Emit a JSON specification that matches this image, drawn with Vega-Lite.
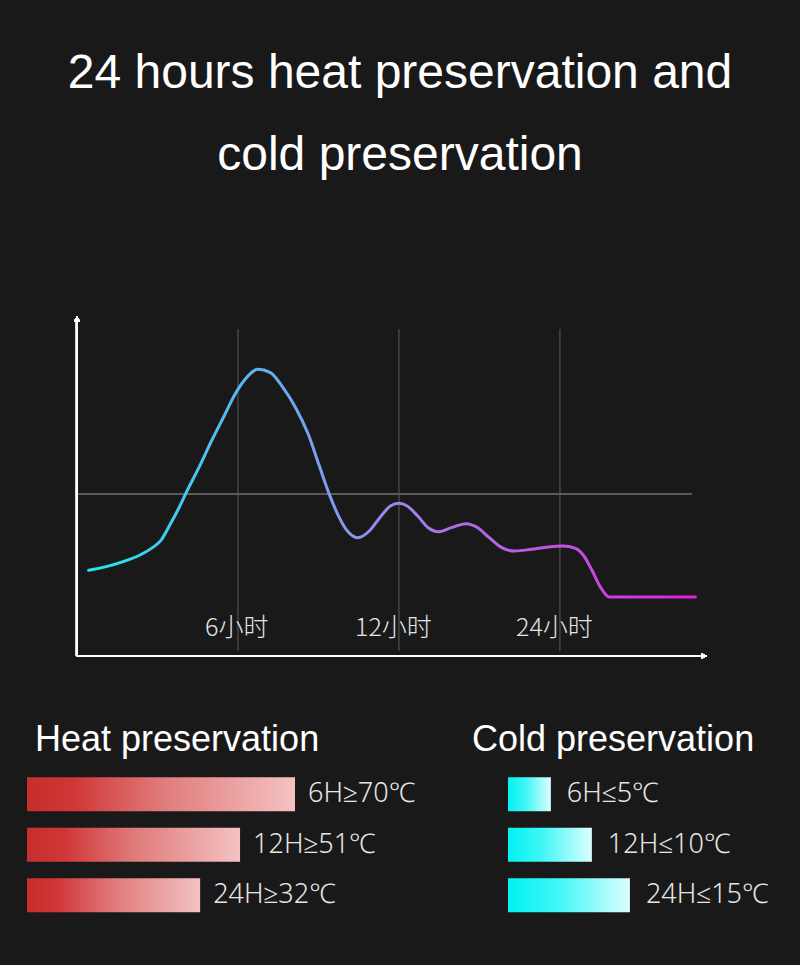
{
  "$schema": "https://vega.github.io/schema/vega-lite/v6.json",
  "background": "#191919",
  "padding": {"top": 50, "left": 0, "right": 0, "bottom": 46},
  "title": {
    "text": ["24 hours heat preservation and", "cold preservation"],
    "fontSize": 48,
    "lineHeight": 82,
    "font": "Liberation Sans",
    "fontWeight": "normal",
    "color": "#ffffff",
    "anchor": "middle",
    "offset": 134
  },
  "spacing": 61,
  "config": {"view": {"stroke": null}, "concat": {"spacing": 0}},
  "vconcat": [
    {
      "width": 800,
      "height": 347,
      "data": {"values": [
        {"pos": 0.0722, "temp": 25.05},
        {"pos": 0.182, "temp": 26.12},
        {"pos": 0.2865, "temp": 27.58},
        {"pos": 0.3911, "temp": 29.53},
        {"pos": 0.4695, "temp": 31.68},
        {"pos": 0.5218, "temp": 33.82},
        {"pos": 0.5793, "temp": 38.5},
        {"pos": 0.6394, "temp": 43.86},
        {"pos": 0.6786, "temp": 47.76},
        {"pos": 0.7571, "temp": 55.07},
        {"pos": 0.8355, "temp": 62.87},
        {"pos": 0.9139, "temp": 70.18},
        {"pos": 0.9819, "temp": 76.51},
        {"pos": 1.0447, "temp": 80.9},
        {"pos": 1.1231, "temp": 83.82},
        {"pos": 1.2015, "temp": 82.85},
        {"pos": 1.2799, "temp": 78.46},
        {"pos": 1.3583, "temp": 72.61},
        {"pos": 1.4368, "temp": 64.82},
        {"pos": 1.5021, "temp": 56.04},
        {"pos": 1.5675, "temp": 47.27},
        {"pos": 1.6198, "temp": 41.42},
        {"pos": 1.672, "temp": 37.04},
        {"pos": 1.7452, "temp": 34.6},
        {"pos": 1.8158, "temp": 36.55},
        {"pos": 1.8812, "temp": 40.45},
        {"pos": 1.9466, "temp": 43.86},
        {"pos": 1.9988, "temp": 44.64},
        {"pos": 2.0511, "temp": 43.86},
        {"pos": 2.1164, "temp": 40.94},
        {"pos": 2.1818, "temp": 37.52},
        {"pos": 2.2472, "temp": 36.35},
        {"pos": 2.3256, "temp": 37.52},
        {"pos": 2.417, "temp": 38.69},
        {"pos": 2.4824, "temp": 37.72},
        {"pos": 2.5608, "temp": 34.6},
        {"pos": 2.6392, "temp": 31.68},
        {"pos": 2.7177, "temp": 30.7},
        {"pos": 2.8223, "temp": 31.19},
        {"pos": 2.9268, "temp": 31.87},
        {"pos": 3.0183, "temp": 32.16},
        {"pos": 3.0967, "temp": 31.48},
        {"pos": 3.149, "temp": 29.24},
        {"pos": 3.2012, "temp": 24.85},
        {"pos": 3.2536, "temp": 19.98},
        {"pos": 3.3058, "temp": 17.25},
        {"pos": 3.5542, "temp": 17.25},
        {"pos": 3.8417, "temp": 17.25}
      ]},
      "layer": [
        {
          "data": {"values": [{"pos": 1}, {"pos": 2}, {"pos": 3}]},
          "mark": {"type": "rule", "color": "#5c5c5c", "strokeWidth": 1},
          "encoding": {
            "x": {"field": "pos", "type": "quantitative", "scale": {"domain": [-0.478, 4.491], "nice": false, "zero": false}, "axis": null},
            "y": {"datum": 95.6, "type": "quantitative", "scale": {"domain": [-1.462, 100], "nice": false, "zero": false}, "axis": null},
            "y2": {"datum": 1.5}
          }
        },
        {
          "mark": {"type": "rule", "color": "#5c5c5c", "strokeWidth": 1},
          "encoding": {
            "x": {"datum": 0.006, "type": "quantitative"},
            "x2": {"datum": 3.82},
            "y": {"datum": 47.4, "type": "quantitative"}
          }
        },
        {
          "mark": {"type": "rule", "color": "#ffffff", "strokeWidth": 2},
          "encoding": {
            "x": {"datum": 0, "type": "quantitative"},
            "y": {"datum": 0, "type": "quantitative"},
            "y2": {"datum": 98.5}
          }
        },
        {
          "mark": {"type": "rule", "color": "#ffffff", "strokeWidth": 2},
          "encoding": {
            "x": {"datum": 0, "type": "quantitative"},
            "x2": {"datum": 3.88},
            "y": {"datum": 0, "type": "quantitative"}
          }
        },
        {
          "mark": {"type": "point", "shape": "triangle-up", "filled": true, "color": "#ffffff", "size": 35, "opacity": 1},
          "encoding": {
            "x": {"datum": 0, "type": "quantitative"},
            "y": {"datum": 98.6, "type": "quantitative"}
          }
        },
        {
          "mark": {"type": "point", "shape": "triangle-right", "filled": true, "color": "#ffffff", "size": 35, "opacity": 1},
          "encoding": {
            "x": {"datum": 3.895, "type": "quantitative"},
            "y": {"datum": 0, "type": "quantitative"}
          }
        },
        {
          "data": {"values": [
            {"pos": 0.9925, "label": "6小时"},
            {"pos": 1.966, "label": "12小时"},
            {"pos": 2.966, "label": "24小时"}
          ]},
          "mark": {"type": "text", "font": "Noto Sans CJK SC", "fontSize": 25, "fontWeight": 300, "color": "#e6e6e6", "align": "center", "baseline": "middle"},
          "encoding": {
            "x": {"field": "pos", "type": "quantitative"},
            "y": {"datum": 8.2, "type": "quantitative"},
            "text": {"field": "label"}
          }
        },
        {
          "mark": {
            "type": "line",
            "interpolate": "monotone",
            "strokeWidth": 3,
            "strokeCap": "round",
            "strokeJoin": "round",
            "color": {
              "gradient": "linear",
              "x1": 0, "x2": 1, "y1": 0, "y2": 0,
              "stops": [
                {"offset": 0, "color": "#22e6ea"},
                {"offset": 0.28, "color": "#5fb2f2"},
                {"offset": 0.51, "color": "#a084ee"},
                {"offset": 0.63, "color": "#b268e4"},
                {"offset": 0.78, "color": "#c452e2"},
                {"offset": 1, "color": "#e21ee0"}
              ]
            }
          },
          "encoding": {
            "x": {"field": "pos", "type": "quantitative"},
            "y": {"field": "temp", "type": "quantitative"}
          }
        }
      ]
    },
    {
      "spacing": 0,
      "hconcat": [
        {
          "width": 440,
          "height": 151.5,
          "title": {"text": "Heat preservation", "anchor": "start", "dx": 35, "fontSize": 36, "font": "Liberation Sans", "fontWeight": "normal", "color": "#ffffff", "offset": 10},
          "data": {"values": [
            {"period": "6H", "score": 100, "label": "6H≥70℃"},
            {"period": "12H", "score": 79.5, "label": "12H≥51℃"},
            {"period": "24H", "score": 64.6, "label": "24H≥32℃"}
          ]},
          "encoding": {
            "y": {"field": "period", "type": "nominal", "sort": null, "axis": null, "scale": {"paddingInner": 0.327, "paddingOuter": 0.1635}},
            "x": {"field": "score", "type": "quantitative", "axis": null, "scale": {"domain": [-10.075, 154.1], "nice": false, "zero": false}}
          },
          "layer": [
            {
              "mark": {
                "type": "bar",
                "color": {
                  "gradient": "linear", "x1": 0, "x2": 1, "y1": 0, "y2": 0,
                  "stops": [
                    {"offset": 0, "color": "#c62e2e"},
                    {"offset": 0.18, "color": "#d03838"},
                    {"offset": 0.5, "color": "#e07a7a"},
                    {"offset": 1, "color": "#f4c2c2"}
                  ]
                }
              }
            },
            {
              "mark": {"type": "text", "align": "left", "baseline": "middle", "dx": 13, "font": "Noto Sans", "fontSize": 27, "fontWeight": 300, "color": "#e6e6e6"},
              "encoding": {"text": {"field": "label"}}
            }
          ]
        },
        {
          "width": 360,
          "height": 151.5,
          "title": {"text": "Cold preservation", "anchor": "start", "dx": 32, "fontSize": 36, "font": "Liberation Sans", "fontWeight": "normal", "color": "#ffffff", "offset": 10},
          "data": {"values": [
            {"period": "6H", "score": 16, "label": "6H≤5℃"},
            {"period": "12H", "score": 31.3, "label": "12H≤10℃"},
            {"period": "24H", "score": 45.5, "label": "24H≤15℃"}
          ]},
          "encoding": {
            "y": {"field": "period", "type": "nominal", "sort": null, "axis": null, "scale": {"paddingInner": 0.327, "paddingOuter": 0.1635}},
            "x": {"field": "score", "type": "quantitative", "axis": null, "scale": {"domain": [-25.37, 108.96], "nice": false, "zero": false}}
          },
          "layer": [
            {
              "mark": {
                "type": "bar",
                "color": {
                  "gradient": "linear", "x1": 0, "x2": 1, "y1": 0, "y2": 0,
                  "stops": [
                    {"offset": 0, "color": "#00f2f2"},
                    {"offset": 0.4, "color": "#3ff6f6"},
                    {"offset": 1, "color": "#dcffff"}
                  ]
                }
              }
            },
            {
              "mark": {"type": "text", "align": "left", "baseline": "middle", "dx": 16, "font": "Noto Sans", "fontSize": 27, "fontWeight": 300, "color": "#e6e6e6"},
              "encoding": {"text": {"field": "label"}}
            }
          ]
        }
      ]
    }
  ]
}
